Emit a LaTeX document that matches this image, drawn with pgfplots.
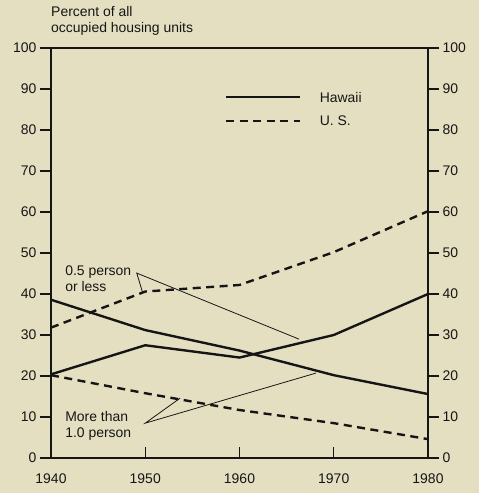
\documentclass[border=0pt]{standalone}
\usepackage{pgfplots}
\pgfplotsset{compat=1.18}
\usepackage{fontspec}
\setmainfont{Liberation Sans}
\definecolor{bg}{HTML}{E5DFC1}
\definecolor{ink}{HTML}{151515}
\tikzset{lbl/.style={inner sep=0pt, text=ink, font=\fontsize{14}{16}\selectfont}}
\pgfplotsset{
  base/.style={at={(0,0)}, anchor=south west, scale only axis,
    width=377bp, height=410bp, xmin=1940, xmax=1980, ymin=0, ymax=100,
    clip=false, axis line style={ink, line width=1.1pt},
    major tick length=11bp, tick style={ink, line width=1.1pt},
    /pgf/number format/assume math mode=true,
    /pgf/number format/1000 sep={},
    tick label style={font=\fontsize{14}{16}\selectfont, text=ink}},
}
\begin{document}
\begin{tikzpicture}
\path[use as bounding box, fill=bg] (-51bp,-35bp) rectangle (428bp,458bp);
% y ticks left
\begin{axis}[base, xtick=\empty, ytick={0,10,...,100}, ytick pos=left, tick align=outside]
\end{axis}
% y ticks right
\begin{axis}[base, xtick=\empty, ytick={0,10,...,100}, ytick pos=right, yticklabel pos=right, tick align=outside]
\end{axis}
% main axis with data and x tick labels
\begin{axis}[base, ytick=\empty, xtick={1940,1950,1960,1970,1980}, xtick pos=left,
  tick align=inside, xticklabel shift=12bp]
% inward x tick marks, 11bp tall (= 2.68 y units)
\addplot[ycomb, ink, line width=1.1pt, no marks, forget plot] coordinates {(1950,2.68) (1960,2.68) (1970,2.68)};
% Hawaii: 0.5 person or less
\addplot[ink, line width=2.4pt] coordinates {(1940,38.6) (1950,31.2) (1960,26.2) (1970,20.2) (1980,15.6)};
% Hawaii: more than 1.0 person
\addplot[ink, line width=2.4pt] coordinates {(1940,20.4) (1950,27.5) (1960,24.5) (1970,30.0) (1980,40.0)};
% U.S.: 0.5 person or less
\addplot[ink, line width=2.4pt, dash pattern=on 8bp off 5.5bp] coordinates {(1940,31.8) (1950,40.6) (1960,42.2) (1970,50.2) (1980,60.2)};
% U.S.: more than 1.0 person
\addplot[ink, line width=2.4pt, dash pattern=on 8bp off 5.5bp] coordinates {(1940,20.2) (1950,15.8) (1960,11.7) (1970,8.5) (1980,4.6)};
% legend samples
\addplot[ink, line width=2.4pt, forget plot] coordinates {(1958.6,88.0) (1966.4,88.0)};
\addplot[ink, line width=2.4pt, dash pattern=on 8bp off 5.5bp, forget plot] coordinates {(1958.6,82.2) (1966.4,82.2)};
\node[lbl, anchor=west] at (axis cs:1968.5,88.0) {Hawaii};
\node[lbl, anchor=west] at (axis cs:1968.5,82.2) {U. S.};
% leader lines
\addplot[ink, line width=0.8pt, forget plot] coordinates {(1949.7,40.5) (1949.1,45.1) (1966.3,29.0)};
\addplot[ink, line width=0.8pt, forget plot] coordinates {(1953.7,14.6) (1950.0,8.5) (1968.1,20.7)};
% annotations
\node[lbl, anchor=base west] at (axis cs:1941.5,44.6) {0.5 person};
\node[lbl, anchor=base west] at (axis cs:1941.5,40.5) {or less};
\node[lbl, anchor=base west] at (axis cs:1941.5,8.8) {More than};
\node[lbl, anchor=base west] at (axis cs:1941.5,4.9) {1.0 person};
% y axis title
\node[lbl, anchor=base west] at (axis cs:1940,107.6) {Percent of all};
\node[lbl, anchor=base west] at (axis cs:1940,103.7) {occupied housing units};
\end{axis}
\end{tikzpicture}
\end{document}
